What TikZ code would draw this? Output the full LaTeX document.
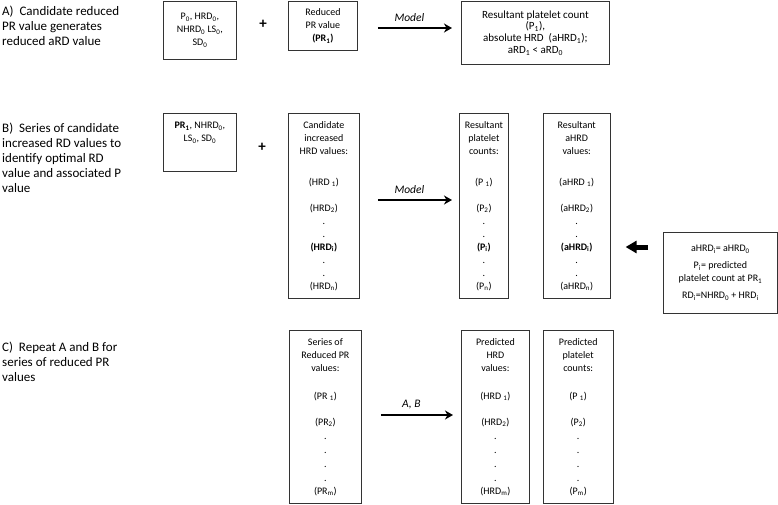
\documentclass[tikz,border=0pt]{standalone}
\usepackage{fontspec}
\setmainfont{Carlito}
\usepackage{tikz}
\usetikzlibrary{arrows.meta,
                calc,
                positioning}
\tikzset{
	%Define standard arrow tip
	>={Stealth[length=8pt,width=9pt,inset=2.5pt]},
	%Define style for boxes
	punkt/.style={
	       rectangle,
	       draw=black!80, line width=0.8pt,
	       inner sep=2pt,
	       font=\fontsize{10}{13}\selectfont,
	       align=center},
	%Define style for the step texts on the left
	stepnote/.style={
	       anchor=north west,
	       inner sep=0pt,
	       font=\fontsize{13}{15}\selectfont,
	       align=left},
	plus/.style={
	       inner sep=0pt,
	       font=\fontsize{15}{15}\selectfont\bfseries},
	modl/.style={
	       above=2pt,
	       font=\fontsize{11.5}{13}\selectfont\itshape},
	% Define arrow styles
	pil/.style={
	       ->,
	       line width=1.5pt},
	fatpil/.style={
	       -{Triangle[length=11pt,width=12pt]},
	       line width=5pt}
}
\newcommand{\ix}[1]{\textsubscript{#1}}

\begin{document}
\begin{tikzpicture}[x=1pt, y=-1pt]
		\useasboundingbox (0,0) rectangle (778,504);
		% step A
		\node[stepnote] (stepA) at (2,6) {A)\ \ Candidate reduced\\PR value generates\\reduced aRD value};
		\node[punkt, minimum width=73, minimum height=58, anchor=north west] (a1) at (163,1) {P\ix{0}, HRD\ix{0},\\NHRD\ix{0} LS\ix{0},\\SD\ix{0}};
		\node[plus] (plusA) at (263,24) {+};
		\node[punkt, minimum width=69, minimum height=49, anchor=north west] (a2) at (288,1) {Reduced\\PR value\\\textbf{(PR\ix{1})}};
		\node[punkt, minimum width=148, minimum height=63, anchor=north west, font=\fontsize{11}{11.8}\selectfont] (a3) at (461,1) {Resultant platelet count\\(P\ix{1}),\\absolute HRD\ \ (aHRD\ix{1});\\aRD\ix{1} < aRD\ix{0}};
		\coordinate (lvlA) at (0,28);
		\draw[pil, shorten <=20pt, shorten >=9pt] (a2.east |- lvlA) -- node[modl] (modelA) {Model} (a3.west |- lvlA);
		% step B
		\node[stepnote] (stepB) at (2,123) {B)\ \ Series of candidate\\increased RD values to\\identify optimal RD\\value and associated P\\value};
		\node[punkt, minimum width=73, minimum height=58, anchor=north west] (b1) at (163,113) {\textbf{PR\ix{1}}, NHRD\ix{0},\\LS\ix{0}, SD\ix{0}\\[8pt]\mbox{}};
		\node[plus] (plusB) at (262,147) {+};
		\node[punkt, minimum width=71, minimum height=185, anchor=north west] (b2) at (288,113) {Candidate\\increased\\HRD values:\\[18pt](HRD \ix{1})\\[13pt](HRD\ix{2})\\.\\.\\\textbf{(HRD\ix{i})}\\.\\.\\(HRD\ix{n})};
		\node[punkt, minimum width=49, minimum height=185, anchor=north west] (b3) at (459,113) {Resultant\\platelet\\counts:\\[18pt](P \ix{1})\\[13pt](P\ix{2})\\.\\.\\\textbf{(P\ix{i})}\\.\\.\\(P\ix{n})};
		\node[punkt, minimum width=67, minimum height=185, right=34pt of b3.north east, anchor=north west] (b4) {Resultant\\aHRD\\values:\\[18pt](aHRD \ix{1})\\[13pt](aHRD\ix{2})\\.\\.\\\textbf{(aHRD\ix{i})}\\.\\.\\(aHRD\ix{n})};
		\node[punkt, minimum width=114, minimum height=81, anchor=north west] (b5) at (663,232) {aHRD\ix{i}= aHRD\ix{0}\\[4pt]P\ix{i}= predicted\\platelet count at PR\ix{1}\\[4pt]RD\ix{i}=NHRD\ix{0} + HRD\ix{i}};
		\coordinate (lvlB) at (0,200);
		\draw[pil, shorten <=18pt, shorten >=7pt] (b2.east |- lvlB) -- node[modl] (modelB) {Model} (b3.west |- lvlB);
		\coordinate (lvlBi) at (0,247);
		\draw[fatpil, shorten <=15pt, shorten >=15pt] (b5.west |- lvlBi) -- (b4.east |- lvlBi);
		% step C
		\node[stepnote] (stepC) at (2,342) {C)\ \ Repeat A and B for\\series of reduced PR\\values};
		\node[punkt, minimum width=72, minimum height=173, anchor=north west] (c1) at (289,330) {Series of\\Reduced PR\\values:\\[15pt](PR \ix{1})\\[13pt](PR\ix{2})\\[1pt].\\[1pt].\\[1pt].\\[1pt].\\(PR\ix{m})};
		\node[punkt, minimum width=68, minimum height=173, anchor=north west] (c2) at (461,330) {Predicted\\HRD\\values:\\[15pt](HRD \ix{1})\\[13pt](HRD\ix{2})\\[1pt].\\[1pt].\\[1pt].\\[1pt].\\(HRD\ix{m})};
		\node[punkt, minimum width=70, minimum height=173, right=13pt of c2.north east, anchor=north west] (c3) {Predicted\\platelet\\counts:\\[15pt](P \ix{1})\\[13pt](P\ix{2})\\[1pt].\\[1pt].\\[1pt].\\[1pt].\\(P\ix{m})};
		\coordinate (lvlC) at (0,415);
		\draw[pil, shorten <=19pt, shorten >=8pt] (c1.east |- lvlC) -- node[modl] (modelC) {A, B} (c2.west |- lvlC);
\end{tikzpicture}
\end{document}
